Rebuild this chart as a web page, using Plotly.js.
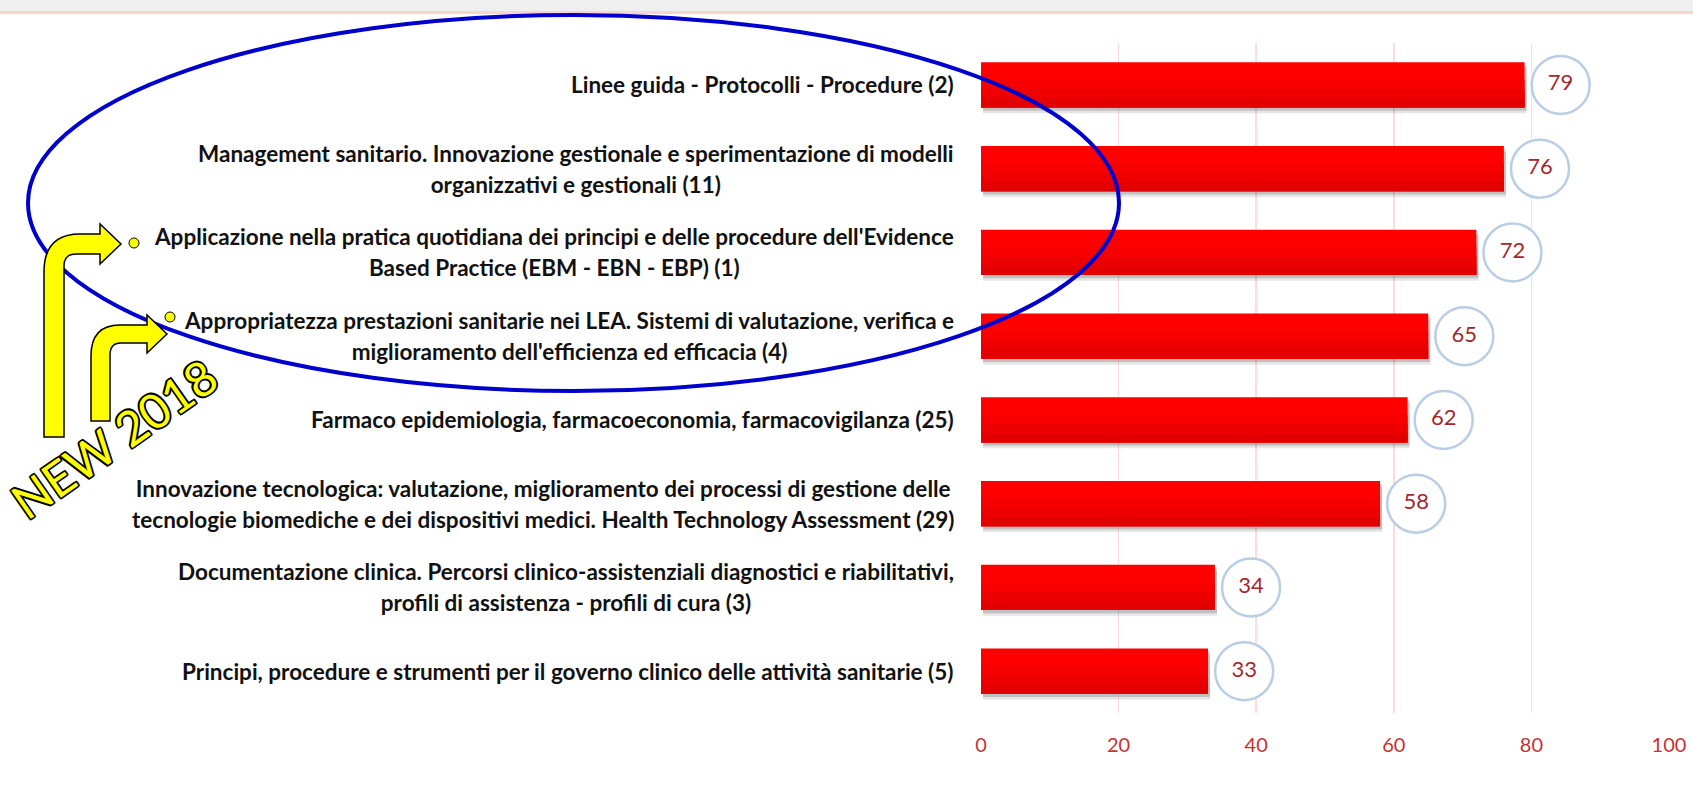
<!DOCTYPE html>
<html>
<head>
<meta charset="utf-8">
<script src="https://cdn.plot.ly/plotly-3.0.1.min.js"></script>
<style>
html,body{margin:0;padding:0;background:#fff;}
#chart{width:1693px;height:789px;}
</style>
</head>
<body>
<div id="chart"></div>
<script>
const categories = [
  "Linee guida - Protocolli - Procedure (2)",
  "Management sanitario. Innovazione gestionale e sperimentazione di modelli<br>organizzativi e gestionali (11)",
  "Applicazione nella pratica quotidiana dei principi e delle procedure dell'Evidence<br>Based Practice (EBM - EBN - EBP) (1)",
  "Appropriatezza prestazioni sanitarie nei LEA. Sistemi di valutazione, verifica e<br>miglioramento dell'efficienza ed efficacia (4)",
  "Farmaco epidemiologia, farmacoeconomia, farmacovigilanza (25)",
  "Innovazione tecnologica: valutazione, miglioramento dei processi di gestione delle<br>tecnologie biomediche e dei dispositivi medici. Health Technology Assessment (29)",
  "Documentazione clinica. Percorsi clinico-assistenziali diagnostici e riabilitativi,<br>profili di assistenza - profili di cura (3)",
  "Principi, procedure e strumenti per il governo clinico delle attività sanitarie (5)"
];
const values = [79, 76, 72, 65, 62, 58, 34, 33];
const tickVals = [0, 20, 40, 60, 80, 100];
const tickText = ["0", "20", "40", "60", "80", "100"];
const badgeText = "NEW 2018";

// layout geometry (pixels)
const W = 1693, H = 789;
const M = {l: 981, r: 24, t: 43, b: 76};
const PW = W - M.l - M.r, PH = H - M.t - M.b;
const X = px => (px - M.l) / PW;
const Y = py => (H - M.b - py) / PH;

const BW = 0.54;
const traces = [];
// soft shadow under bars
[[0.07, 'rgba(0,0,0,0.10)'], [0.04, 'rgba(0,0,0,0.16)']].forEach(([off, col]) => {
  traces.push({type:'bar', orientation:'h', y:categories, x:values, base:0.3,
    width:BW, offset:-BW/2 + off, marker:{color:col}, hoverinfo:'skip'});
});
// vertical gradient of bar fill
[[1.0, '#ff0000'], [0.62, '#f70000'], [0.40, '#ee0000'], [0.20, '#e30000']].forEach(([frac, col]) => {
  traces.push({type:'bar', orientation:'h', y:categories, x:values,
    width:BW*frac, offset:BW/2 - BW*frac, marker:{color:col, line:{width:0}}, hoverinfo:'skip'});
});
// value bubbles
const LABEL_SHIFT = 5.25;
traces.push({type:'scatter', mode:'markers+text', y:categories,
  x:values.map(v => v + LABEL_SHIFT), text:values.map(String), textposition:'middle center',
  cliponaxis:false,
  marker:{size:58, color:'#ffffff', line:{color:'#b9cde5', width:2.5}},
  textfont:{family:'Lato, sans-serif', size:22, color:'#a3282b'}, hoverinfo:'skip'});

const annotations = categories.map(c => ({
  xref:'paper', x:0, xshift:-25, xanchor:'right',
  yref:'y', y:c, yanchor:'middle',
  text:c.split('<br>').map(l => '<span style="font-size:22.5px">' + l + '</span>').join('<br>'),
  align:'center', showarrow:false,
  font:{family:'Lato, sans-serif', size:24, color:'#111111', weight:'bold'}
}));
const sh = [];
for (let dx = -1.5; dx <= 1.5; dx += 1.5) for (let dy = -1.5; dy <= 1.5; dy += 1.5) {
  if (dx || dy) sh.push(dx + 'px ' + dy + 'px 0 #000');
}
annotations.push({xref:'paper', yref:'paper', x:X(113), y:Y(438), xanchor:'center', yanchor:'middle',
  text:badgeText, textangle:-35, showarrow:false,
  font:{family:'Lato, sans-serif', size:48, color:'#ffff00', shadow:sh.join(', ')}});

function arrowPath(p) {
  // bent arrow: vertical stem then right-pointing head
  const pts = [
    ['M', p.sl, p.bot], ['L', p.sl, p.oy1],
    ['Q', p.sl, p.at, p.ox1, p.at], ['L', p.hb, p.at], ['L', p.hb, p.ht],
    ['L', p.tip, p.ac], ['L', p.hb, p.hbot], ['L', p.hb, p.ab],
    ['L', p.ix1, p.ab], ['Q', p.sr, p.ab, p.sr, p.iy1], ['L', p.sr, p.bot], ['Z']
  ];
  return pts.map(s => {
    if (s[0] === 'Z') return 'Z';
    let out = s[0];
    for (let i = 1; i < s.length; i += 2) out += ' ' + X(s[i]).toFixed(5) + ',' + Y(s[i+1]).toFixed(5);
    return out;
  }).join(' ');
}
const arrowStyle = {type:'path', xref:'paper', yref:'paper', fillcolor:'#ffff00', line:{color:'#000000', width:1.5}};
const shapes = [
  {type:'rect', xref:'paper', yref:'paper', x0:X(0), x1:X(W), y0:Y(11), y1:Y(0), fillcolor:'#efefef', line:{width:0}, layer:'below'},
  {type:'rect', xref:'paper', yref:'paper', x0:X(0), x1:X(W), y0:Y(14), y1:Y(11), fillcolor:'#ffd2d2', line:{width:0}, layer:'below'},
  {type:'circle', xref:'paper', yref:'paper', x0:X(28), x1:X(1119), y0:Y(391), y1:Y(15), line:{color:'#0000cc', width:4}},
  Object.assign({path:arrowPath({sl:44, sr:64, bot:437, oy1:272, at:234, ox1:80, hb:100, ht:224, tip:121, ac:244, hbot:264, ab:254, ix1:76, iy1:266})}, arrowStyle),
  Object.assign({path:arrowPath({sl:91, sr:110, bot:421, oy1:356, at:325, ox1:120, hb:147, ht:315, tip:167, ac:334, hbot:353, ab:343, ix1:121, iy1:355})}, arrowStyle),
  {type:'circle', xref:'paper', yref:'paper', x0:X(129), x1:X(139), y0:Y(248), y1:Y(238), fillcolor:'#ffff00', line:{color:'#000', width:1}},
  {type:'circle', xref:'paper', yref:'paper', x0:X(165), x1:X(175), y0:Y(322), y1:Y(312), fillcolor:'#ffff00', line:{color:'#000', width:1}}
];

const layout = {
  width:W, height:H, margin:M, paper_bgcolor:'#ffffff', plot_bgcolor:'#ffffff',
  barmode:'overlay', showlegend:false,
  xaxis:{range:[0, 100], tickvals:tickVals, ticktext:tickText, showgrid:true, gridcolor:'#ffdcdc', gridwidth:1.5,
    zeroline:false, showline:false, ticks:'', ticklabelstandoff:18,
    tickfont:{family:'Lato, sans-serif', size:20, color:'#c8322f'}},
  yaxis:{type:'category', categoryorder:'array', categoryarray:categories, range:[categories.length - 0.5, -0.5],
    autorange:false, showticklabels:false, showgrid:false, zeroline:false, showline:false, ticks:''},
  annotations:annotations, shapes:shapes
};
Plotly.newPlot('chart', traces, layout, {displayModeBar:false, staticPlot:true});
</script>
</body>
</html>
